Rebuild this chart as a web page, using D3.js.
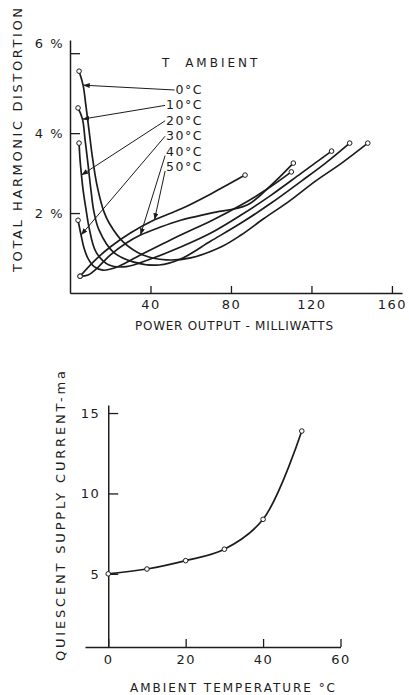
<!DOCTYPE html>
<html>
<head>
<meta charset="utf-8">
<script src="https://cdn.jsdelivr.net/npm/d3@7"></script>
<style>
body { margin: 0; background: #fff; }
svg text { font-family: "DejaVu Sans", sans-serif; fill: #1c1c1c; }
</style>
</head>
<body>
<div id="chart"></div>
<script>
// ambient temperature of each distortion curve
var ambients = ["0°C", "10°C", "20°C", "30°C", "40°C", "50°C"];

// [power output mW, total harmonic distortion %]
var dist0  = [[4.5,5.55],[6.5,5.2],[8,4.65],[9.5,4.05],[11,3.45],[13.4,2.7],[16.9,2.03],[19.6,1.74],[26.4,1.28],[36.3,0.95],[47.8,0.83],[60,0.88],[75,1.15],[85,1.45],[96,1.85],[109,2.3],[122,2.8],[135,3.25],[148,3.75]];
var dist10 = [[4,4.63],[6.2,4.35],[7.5,3.83],[9,3.2],[10.4,2.58],[11.9,2.03],[14.4,1.58],[21.4,1.03],[31.3,0.78],[44.3,0.7],[55,0.85],[70,1.3],[85,1.75],[100,2.25],[115,2.8],[127,3.25],[139,3.75]];
var dist20 = [[4.5,3.75],[5,3.33],[5.7,2.95],[6.5,2.58],[8,2.08],[9.5,1.63],[12.9,1.03],[19.4,0.7],[28,0.66],[40,0.85],[55,1.15],[70,1.5],[85,1.95],[100,2.45],[115,3],[130,3.55]];
var dist30 = [[4,1.82],[5.5,1.45],[7,1.12],[9,0.86],[12,0.66],[16.4,0.57],[22.4,0.63],[35,0.95],[55,1.45],[70,1.8],[85,2.2],[98,2.6],[110,3.03]];
var dist40 = [[5,0.42],[9,0.45],[13,0.6],[20,0.95],[28,1.25],[35,1.45],[45,1.65],[55,1.82],[70,2],[88,2.2],[100,2.7],[111,3.25]];
var dist50 = [[5,0.42],[12,0.8],[20,1.15],[30,1.5],[42,1.83],[55,2.1],[70,2.48],[87,2.95]];

// which point of each curve the label arrow lands on
var arrowAt = [1, 1, 2, 1, 5, 4];

// quiescent supply current vs ambient temperature
var tempC = [0, 10, 20, 30, 40, 50];
var currentMa = [5.0, 5.3, 5.82, 6.53, 8.39, 13.88];

var distTicks = [2, 4, 6];
var powerTicks = [40, 80, 120, 160];
var currentTicks = [5, 10, 15];
var tempTicks = [0, 20, 40, 60];

var ink = "#1c1c1c";
var curves = [dist0, dist10, dist20, dist30, dist40, dist50];

var svg = d3.select("#chart")
  .append("svg")
    .attr("width", 409)
    .attr("height", 695);

svg.append("defs").append("marker")
    .attr("id", "arr")
    .attr("viewBox", "0 -3 8 6")
    .attr("refX", 8).attr("refY", 0)
    .attr("markerWidth", 7).attr("markerHeight", 5)
    .attr("markerUnits", "userSpaceOnUse")
    .attr("orient", "auto")
  .append("path")
    .attr("d", "M0,-3L8,0L0,3Z")
    .attr("fill", ink);

function styleAxis(g, size) {
  g.select(".domain").attr("stroke", ink).attr("stroke-width", 1.5);
  g.selectAll(".tick line").attr("stroke", ink).attr("stroke-width", 1.3);
  g.selectAll("text").style("font-size", size + "px").style("letter-spacing", "1.5px").attr("fill", ink);
}

// ---------- top chart: distortion vs power ----------
var x1 = d3.scaleLinear().domain([0, 165]).range([70, 402]);
var y1 = d3.scaleLinear().domain([0, 6.33]).range([293, 40]);

var xa1 = svg.append("g")
  .attr("transform", "translate(0," + y1(0) + ")")
  .call(d3.axisBottom(x1).tickValues(powerTicks).tickSizeInner(-7).tickSizeOuter(0).tickPadding(7));
styleAxis(xa1, 13);

var ya1 = svg.append("g")
  .attr("transform", "translate(" + x1(0) + ",0)")
  .call(d3.axisLeft(y1).tickValues(distTicks).tickSizeInner(-10).tickSizeOuter(0).tickPadding(6)
    .tickFormat(function(d) { return d + " %"; }));
styleAxis(ya1, 13);
// the 6 % label sits a little above its tick
ya1.selectAll(".tick").filter(function(d) { return d == 6; }).select("text").attr("y", -10);

var line1 = d3.line()
  .x(function(d) { return x1(d[0]); })
  .y(function(d) { return y1(d[1]); })
  .curve(d3.curveCatmullRom.alpha(0.5));

svg.selectAll("distLines")
  .data(curves)
  .enter()
  .append("path")
    .attr("d", function(d) { return line1(d); })
    .attr("fill", "none")
    .attr("stroke", ink)
    .attr("stroke-width", 1.7);

// open circles at both ends of every curve
var ends = [];
curves.forEach(function(c) { ends.push(c[0]); ends.push(c[c.length - 1]); });
svg.selectAll("distDots")
  .data(ends)
  .enter()
  .append("circle")
    .attr("cx", function(d) { return x1(d[0]); })
    .attr("cy", function(d) { return y1(d[1]); })
    .attr("r", 2.3)
    .attr("fill", "#fff")
    .attr("stroke", ink)
    .attr("stroke-width", 1);

svg.append("text")
  .attr("x", 162).attr("y", 67)
  .style("font-size", "12px")
  .style("letter-spacing", "3px")
  .style("word-spacing", "6px")
  .text("T AMBIENT");

// temperature labels with arrows to their curves
ambients.forEach(function(name, i) {
  var base = 94 + i * 15.4;
  var t = svg.append("text")
    .attr("x", 203).attr("y", base)
    .attr("text-anchor", "end")
    .style("font-size", "12.5px")
    .style("letter-spacing", "1.5px")
    .text(name);
  var bb = t.node().getBBox();
  var tip = curves[i][arrowAt[i]];
  svg.append("line")
    .attr("x1", bb.x - 1)
    .attr("y1", base + (i < 4 ? -4 : 0))
    .attr("x2", x1(tip[0]))
    .attr("y2", y1(tip[1]))
    .attr("stroke", ink)
    .attr("stroke-width", 1)
    .attr("marker-end", "url(#arr)");
});

svg.append("text")
  .attr("transform", "translate(22,140) rotate(-90)")
  .attr("text-anchor", "middle")
  .style("font-size", "13px")
  .attr("textLength", 264)
  .attr("lengthAdjust", "spacing")
  .text("TOTAL  HARMONIC  DISTORTION");

svg.append("text")
  .attr("x", 135).attr("y", 330)
  .style("font-size", "12px")
  .attr("textLength", 198)
  .attr("lengthAdjust", "spacing")
  .text("POWER OUTPUT - MILLIWATTS");

// ---------- bottom chart: current vs temperature ----------
var x2 = d3.scaleLinear().domain([-6, 60]).range([85, 340.5]);
var y2 = d3.scaleLinear().domain([0.45, 15.5]).range([647, 405]);

var xa2 = svg.append("g")
  .attr("transform", "translate(0," + y2(0.45) + ")")
  .call(d3.axisBottom(x2).tickValues(tempTicks).tickSizeInner(-8).tickSizeOuter(0).tickPadding(8));
styleAxis(xa2, 13);

var ya2 = svg.append("g")
  .attr("transform", "translate(" + x2(0) + ",0)")
  .call(d3.axisLeft(y2).tickValues(currentTicks).tickSizeInner(-10).tickSizeOuter(0).tickPadding(8));
styleAxis(ya2, 13);

var pts = tempC.map(function(t, i) { return [t, currentMa[i]]; });

var line2 = d3.line()
  .x(function(d) { return x2(d[0]); })
  .y(function(d) { return y2(d[1]); })
  .curve(d3.curveCatmullRom.alpha(0.5));

svg.append("path")
  .attr("d", line2(pts))
  .attr("fill", "none")
  .attr("stroke", ink)
  .attr("stroke-width", 1.7);

svg.selectAll("curDots")
  .data(pts)
  .enter()
  .append("circle")
    .attr("cx", function(d) { return x2(d[0]); })
    .attr("cy", function(d) { return y2(d[1]); })
    .attr("r", 2.3)
    .attr("fill", "#fff")
    .attr("stroke", ink)
    .attr("stroke-width", 1);

svg.append("text")
  .attr("transform", "translate(65,516) rotate(-90)")
  .attr("text-anchor", "middle")
  .style("font-size", "13px")
  .attr("textLength", 290)
  .attr("lengthAdjust", "spacing")
  .text("QUIESCENT  SUPPLY  CURRENT-ma");

svg.append("text")
  .attr("x", 130).attr("y", 692)
  .style("font-size", "12px")
  .attr("textLength", 205)
  .attr("lengthAdjust", "spacing")
  .text("AMBIENT  TEMPERATURE °C");
</script>
</body>
</html>
